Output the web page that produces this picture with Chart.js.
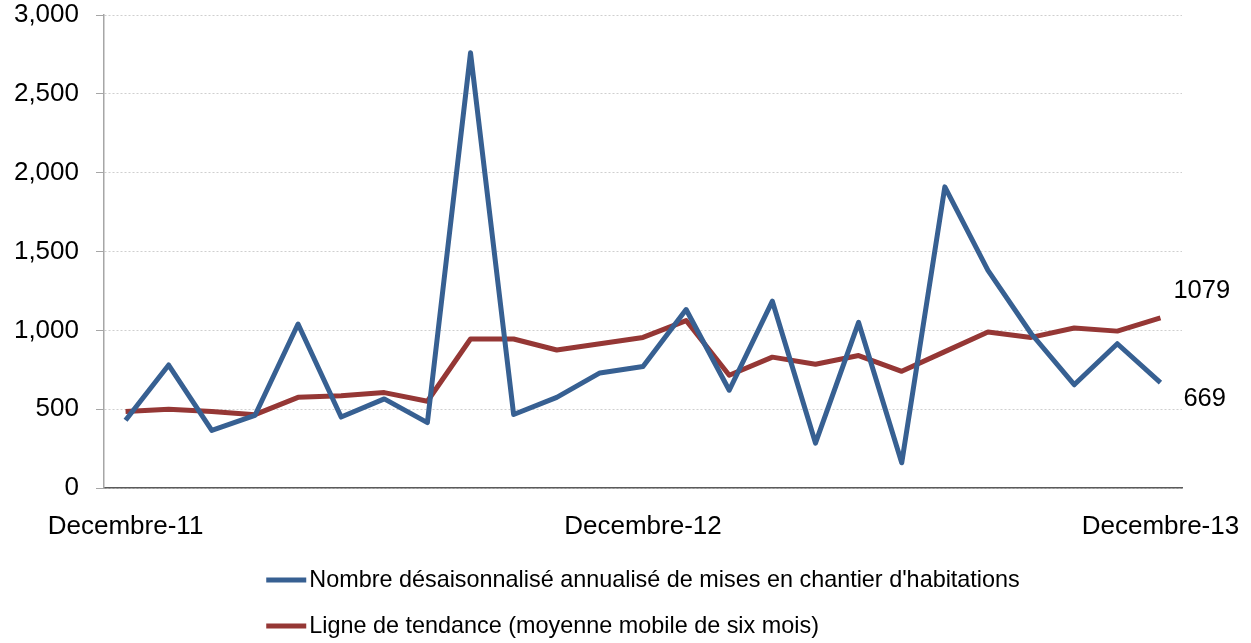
<!DOCTYPE html>
<html>
<head>
<meta charset="utf-8">
<script src="https://cdn.jsdelivr.net/npm/chart.js@4.4.1/dist/chart.umd.min.js"></script>
<style>
  html, body { margin: 0; padding: 0; background: #ffffff; }
  #wrap { width: 1251px; height: 643px; position: relative; }
</style>
</head>
<body>
<div id="wrap"><canvas id="c" width="1251" height="643"></canvas></div>
<script>
// ---- Data ----
const categories = [
  "Decembre-11", "Janvier-12", "Fevrier-12", "Mars-12", "Avril-12", "Mai-12", "Juin-12",
  "Juillet-12", "Aout-12", "Septembre-12", "Octobre-12", "Novembre-12", "Decembre-12",
  "Janvier-13", "Fevrier-13", "Mars-13", "Avril-13", "Mai-13", "Juin-13",
  "Juillet-13", "Aout-13", "Septembre-13", "Octobre-13", "Novembre-13", "Decembre-13"
];
const shownTickLabels = ["Decembre-11", "Decembre-12", "Decembre-13"];
const startsSeries = [430, 780, 365, 460, 1040, 450, 565, 415, 2760, 466, 575, 730, 770, 1132, 620, 1185, 285, 1050, 160, 1910, 1380, 980, 655, 915, 669];
const trendSeries  = [485, 500, 485, 465, 575, 585, 605, 550, 945, 945, 875, 915, 955, 1062, 715, 830, 785, 840, 740, 865, 990, 955, 1015, 995, 1079];
const seriesNames = [
  "Nombre désaisonnalisé annualisé de mises en chantier d'habitations",
  "Ligne de tendance (moyenne mobile de six mois)"
];
const yTicks = { min: 0, max: 3000, step: 500 };

const BLUE = "#376092";
const RED = "#953735";
const FONT = "'Liberation Sans', Arial, sans-serif";

// custom legend (stacked, left aligned block, centered on chart area)
const stackedLegend = {
  id: "stackedLegend",
  afterDraw(chart) {
    const ctx = chart.ctx;
    const ca = chart.chartArea;
    ctx.save();
    ctx.font = "23.4px " + FONT;
    ctx.textBaseline = "middle";
    ctx.textAlign = "left";
    const ds = chart.data.datasets;
    let maxW = 0;
    ds.forEach(d => { maxW = Math.max(maxW, ctx.measureText(d.label).width); });
    const markW = 40, gap = 3;
    const blockW = markW + gap + maxW;
    const left = (ca.left + ca.right) / 2 - blockW / 2;
    const rowsY = [580, 626];
    ds.forEach((d, i) => {
      const y = rowsY[i];
      ctx.strokeStyle = d.borderColor;
      ctx.lineWidth = 5;
      ctx.lineCap = "butt";
      ctx.beginPath();
      ctx.moveTo(left, y);
      ctx.lineTo(left + markW, y);
      ctx.stroke();
      ctx.fillStyle = "#000";
      ctx.fillText(d.label, left + markW + gap, y + 1);
    });
    ctx.restore();
  }
};

// end labels for last values
const endLabels = {
  id: "endLabels",
  afterDatasetsDraw(chart) {
    const ctx = chart.ctx;
    ctx.save();
    ctx.font = "25.5px " + FONT;
    ctx.fillStyle = "#000";
    ctx.textAlign = "left";
    ctx.textBaseline = "middle";
    const offsets = [{dx: 23, dy: 16}, {dx: 13, dy: -27}];
    chart.data.datasets.forEach((d, i) => {
      const meta = chart.getDatasetMeta(i);
      const last = meta.data[meta.data.length - 1];
      const v = d.data[d.data.length - 1];
      ctx.fillText(String(v), last.x + offsets[i].dx, last.y + offsets[i].dy);
    });
    ctx.restore();
  }
};

new Chart(document.getElementById("c"), {
  type: "line",
  data: {
    labels: categories,
    datasets: [
      {
        label: seriesNames[0],
        data: startsSeries,
        borderColor: BLUE,
        backgroundColor: BLUE,
        borderWidth: 5,
        pointRadius: 0,
        pointHoverRadius: 0,
        tension: 0,
        borderJoinStyle: "round",
        fill: false
      },
      {
        label: seriesNames[1],
        data: trendSeries,
        borderColor: RED,
        backgroundColor: RED,
        borderWidth: 5,
        pointRadius: 0,
        pointHoverRadius: 0,
        tension: 0,
        borderJoinStyle: "round",
        fill: false
      }
    ]
  },
  options: {
    responsive: false,
    animation: false,
    devicePixelRatio: 1,
    layout: { padding: { top: 15, right: 69, left: 0, bottom: 0 } },
    plugins: {
      legend: { display: false },
      tooltip: { enabled: false }
    },
    scales: {
      x: {
        type: "category",
        offset: true,
        grid: { display: false, drawTicks: false },
        border: { display: true, color: "#5a5a5a", width: 1.5 },
        ticks: {
          autoSkip: false,
          maxRotation: 0,
          padding: 23,
          color: "#000",
          font: { family: FONT, size: 26 },
          callback: function(value) {
            const lab = this.getLabelForValue(value);
            return shownTickLabels.includes(lab) ? lab : "";
          }
        },
        afterFit(scale) {
          scale.height = 155;
          scale.paddingLeft = 0; scale.paddingRight = 0;
        }
      },
      y: {
        min: yTicks.min,
        max: yTicks.max,
        grid: {
          color: "#cfcfcf",
          lineWidth: 1,
          drawTicks: true,
          tickLength: 8,
          tickColor: "#a6a6a6",
          tickBorderDash: []
        },
        border: { display: true, color: "#a6a6a6", width: 1.5, dash: [2, 2] },
        ticks: {
          stepSize: yTicks.step,
          padding: 17,
          color: "#000",
          font: { family: FONT, size: 26 },
          callback: v => Number(v).toLocaleString("en-US")
        },
        afterFit(scale) {
          scale.width = 104;
          scale.paddingTop = 0; scale.paddingBottom = 0;
        }
      }
    }
  },
  plugins: [endLabels, stackedLegend]
});
</script>
</body>
</html>
